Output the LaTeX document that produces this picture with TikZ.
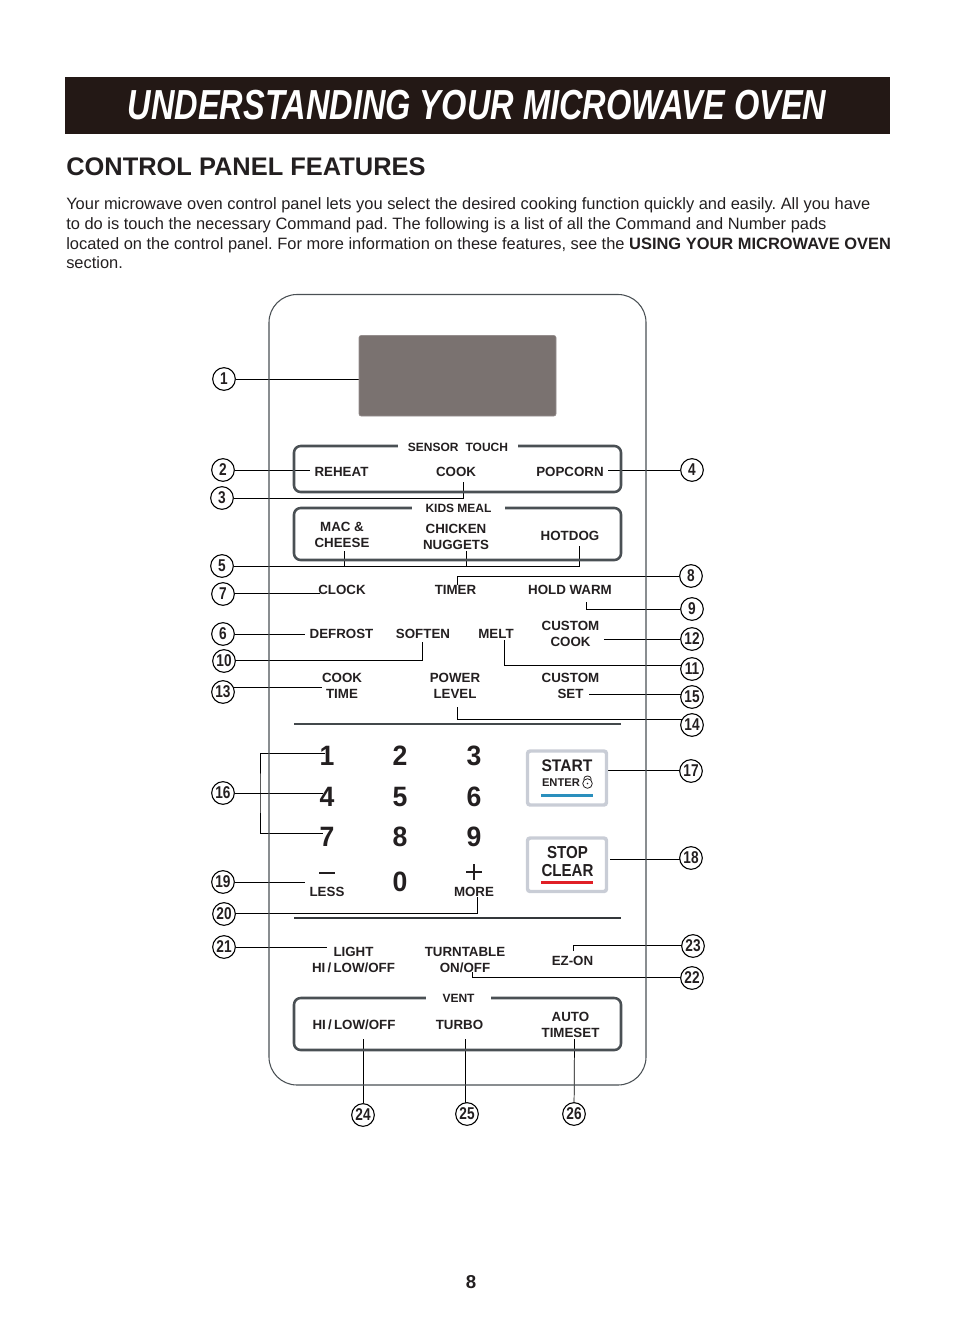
\documentclass[tikz,border=0pt]{standalone}
\usepackage{fontspec}
\setmainfont{Liberation Sans}
\usetikzlibrary{backgrounds}
\definecolor{bandcol}{HTML}{231815}
\definecolor{textcol}{HTML}{231F20}
\definecolor{boxcol}{HTML}{4A5054}
\definecolor{btncol}{HTML}{C9CDD6}
\definecolor{dispcol}{HTML}{7A7270}
\definecolor{startcol}{HTML}{2A8FBD}
\definecolor{stopcol}{HTML}{E01F26}
\newcommand{\pxfont}[1]{\fontsize{#1}{#1}\selectfont}
\frenchspacing
\tikzset{
    leader/.style={line width=0.55pt, black},
    callout/.style={circle, draw=black, line width=0.8pt, fill=white, minimum size=17pt, inner sep=0pt, font=\pxfont{12.8}\bfseries, text=textcol},
    padlabel/.style={font=\fontsize{10}{12}\selectfont\bfseries, text=textcol, align=center, yshift=-0.5pt},
    grouplabel/.style={font=\pxfont{9}\bfseries, text=textcol, fill=white, yshift=-0.5pt},
    digit/.style={font=\pxfont{21}\bfseries, text=textcol, yshift=-0.6pt, xscale=0.95},
    bodyline/.style={anchor=base west, inner sep=0pt, font=\pxfont{12.33}, text=textcol},
    groupbox/.style={draw=boxcol, line width=1.9pt, rounded corners=5pt},
    btnbox/.style={draw=btncol, line width=2.6pt, rounded corners=2pt, fill=white},
}
\begin{document}
\begin{tikzpicture}[x=0.75pt, y=-0.75pt]
    \useasboundingbox (0,0) rectangle (954,1342);
    % Page heading
    \fill[bandcol] (65,77) rectangle (890,134);
    \node[xscale=0.775, text=white, font=\pxfont{31.5}\bfseries\itshape] (title) at (477,105) {UNDERSTANDING YOUR MICROWAVE OVEN};
    \node[anchor=base west, inner sep=0pt, text=textcol, font=\pxfont{19.07}\bfseries] (heading) at (66,175) {CONTROL PANEL FEATURES};
    \node[bodyline] (line1) at (66,209) {Your microwave oven control panel lets you select the desired cooking function quickly and easily. All you have};
    \node[bodyline] (line2) at (66,229) {to do is touch the necessary Command pad. The following is a list of all the Command and Number pads};
    \node[bodyline] (line3) at (66,249) {located on the control panel. For more information on these features, see the \textbf{USING YOUR MICROWAVE OVEN}};
    \node[bodyline] (line4) at (66,268) {section.};
    \node[text=textcol, font=\pxfont{14}\bfseries] (pageno) at (471,1282) {8};
    % Panel
    \draw[draw=boxcol, line width=0.8pt, rounded corners=21pt] (269,294.5) rectangle (646,1085);
    \draw[draw=dispcol!80!white, fill=dispcol, rounded corners=1.5pt] (359,335.5) rectangle (556,416);
    \draw[groupbox] (294,446) rectangle (621,492);
    \draw[groupbox] (294,508) rectangle (621,560);
    \draw[groupbox] (294,998) rectangle (621,1050);
    \draw[boxcol!90!black, line width=1.5pt] (294,724) -- (621,724);
    \draw[boxcol!70!black, line width=2pt] (294,918) -- (621,918);
    \node[grouplabel, minimum width=90pt, minimum height=8pt, inner sep=0pt] (sensor) at (458,446.5) {SENSOR\hspace{0.3em} TOUCH};
    \node[grouplabel, minimum width=70pt, minimum height=8pt, inner sep=0pt] (kids) at (458.5,507.5) {KIDS MEAL};
    \node[grouplabel, minimum width=49pt, minimum height=8pt, inner sep=0pt] (vent) at (458.5,998) {VENT};
    % Command pads
    \node[padlabel] (reheat) at (341.5,471) {REHEAT};
    \node[padlabel] (cook) at (456,471) {COOK};
    \node[padlabel] (popcorn) at (570,471) {POPCORN};
    \node[padlabel] (mac) at (342,534) {MAC \&\\CHEESE};
    \node[padlabel] (chicken) at (456,536) {CHICKEN\\NUGGETS};
    \node[padlabel] (hotdog) at (570,535.5) {HOTDOG};
    \node[padlabel] (clock) at (342,589.5) {CLOCK};
    \node[padlabel] (timer) at (455.5,589.5) {TIMER};
    \node[padlabel] (holdwarm) at (570,589.5) {HOLD WARM};
    \node[padlabel] (defrost) at (341.5,633) {DEFROST};
    \node[padlabel] (soften) at (423,633) {SOFTEN};
    \node[padlabel] (melt) at (496,633) {MELT};
    \node[padlabel] (customcook) at (570.5,633) {CUSTOM\\COOK};
    \node[padlabel] (cooktime) at (342,685) {COOK\\TIME};
    \node[padlabel] (power) at (455,685) {POWER\\LEVEL};
    \node[padlabel] (customset) at (570.5,685) {CUSTOM\\SET};
    \node[padlabel] (less) at (327,891.5) {LESS};
    \node[padlabel] (more) at (474,891.5) {MORE};
    \node[padlabel] (light) at (353.5,959.5) {LIGHT\\HI\,/\,LOW/OFF};
    \node[padlabel] (turntable) at (465,959) {TURNTABLE\\ON/OFF};
    \node[padlabel] (ezon) at (572.5,960) {EZ-ON};
    \node[padlabel] (hilow) at (354,1024.5) {HI\,/\,LOW/OFF};
    \node[padlabel] (turbo) at (459.5,1024) {TURBO};
    \node[padlabel] (auto) at (570.5,1024) {AUTO\\TIMESET};
    % Number pads
    \foreach \d/\x/\y in {1/327/755,2/400/755,3/474/755,4/327/796,5/400/796,6/474/796,7/327/836,8/400/836,9/474/836,0/400/881}
        \node[digit] (key\d) at (\x,\y) {\d};
    \draw[textcol, line width=1.3pt] (319,873) -- (335,873);
    \draw[textcol, line width=1.3pt] (466,872) -- (482,872) (474,864) -- (474,880);
    % Start and stop
    \draw[btnbox] (527.5,751) rectangle (606.5,805);
    \draw[btnbox] (527.5,838) rectangle (606.5,891.5);
    \node[xscale=0.93, text=textcol, font=\pxfont{12.6}\bfseries] (start) at (567,766) {START};
    \node[text=textcol, font=\pxfont{8.4}\bfseries] (enter) at (561,783) {ENTER};
    \node[xscale=0.87, text=textcol, font=\fontsize{13}{12.8}\selectfont\bfseries, align=center] (stop) at (567.5,861.5) {STOP\\CLEAR};
    \draw[startcol, line width=2pt] (541,795.5) -- (593,795.5);
    \draw[stopcol, line width=2pt] (541,882.5) -- (593,882.5);
    \draw[textcol, line width=0.6pt] (587.5,783.5) circle (3.6pt);
    \draw[textcol, line width=0.6pt] (584,780) -- (584,778.5) arc (180:0:3.5 and -2.5) -- (591,780);
    \fill[textcol] (587.5,783.5) circle (0.7pt);
    % Callouts
    \foreach \n/\x/\y in {1/224/379,2/223/470,3/222/498,4/692/470,5/222/566,6/223/634,7/223/594,8/691/576,9/692/609,
                          10/224/661,11/692/669,12/692/639,13/223/692,14/692/725,15/692/697,16/223/793,17/691/771,18/691/858,
                          19/223/882,20/224/914,21/224/947,22/692/978,23/693/946,24/363/1115,25/467/1114,26/574/1114}
        \node[callout] (c\n) at (\x,\y) {\scalebox{0.8}[1]{\n}};
    % Free ends of the leaders
    \coordinate (a3) at (463,482);
    \coordinate (a5a) at (344.5,551);
    \coordinate (a5b) at (466.5,551);
    \coordinate (a5c) at (579,546);
    \coordinate (a7) at (320,593.5);
    \coordinate (a8) at (457,585);
    \coordinate (a9) at (586,602);
    \coordinate (a10) at (422,642);
    \coordinate (a11) at (504,640);
    \coordinate (a13) at (322,687);
    \coordinate (a14) at (457,707);
    \coordinate (a15) at (589,694);
    \coordinate (a16a) at (325,753);
    \coordinate (a16b) at (323,793);
    \coordinate (a16c) at (323,833);
    \coordinate (a17) at (608,770);
    \coordinate (a18) at (610,859);
    \coordinate (a20) at (477.5,897);
    \coordinate (a21) at (327,947);
    \coordinate (a22) at (472,972);
    \coordinate (a23) at (573,951);
    \coordinate (a24) at (363,1039);
    \coordinate (a25) at (465.5,1039);
    \coordinate (a26) at (574.5,1039);
    \begin{scope}[on background layer]
        \draw[leader] (c1) -- (c1 -| 359,379);
        \draw[leader] (c2) -- (reheat.west |- c2);
        \draw[leader] (c3) -| (a3);
        \draw[leader] (popcorn.east |- c4) -- (c4);
        \draw[leader] (c5) -| (a5c);
        \draw[leader] (a5a) -- (a5a |- c5);
        \draw[leader] (a5b) -- (a5b |- c5);
        \draw[leader] (c7 |- a7) -- (a7);
        \draw[leader] (a8) |- (c8);
        \draw[leader] (a9) |- (c9);
        \draw[leader] (c6) -- (defrost.west |- c6);
        \draw[leader] (c10 |- 0,660) -| (a10);
        \draw[leader] (a11) |- (c11 |- 0,665.5);
        \draw[leader] (customcook.east |- c12) -- (c12);
        \draw[leader] (c13 |- a13) -- (a13);
        \draw[leader] (a14) |- (c14 |- 0,719);
        \draw[leader] (a15) -- (c15 |- a15);
        \draw[leader] (a16a) -| (260,793) |- (a16c);
        \draw[leader] (c16) -- (a16b);
        \draw[leader] (a17) -- (c17 |- a17);
        \draw[leader] (a18) -- (c18 |- a18);
        \draw[leader] (c19) -- (less.west |- c19);
        \draw[leader] (c20 |- 0,913) -| (a20);
        \draw[leader] (c21) -- (a21);
        \draw[leader] (a22) |- (c22 |- 0,977);
        \draw[leader] (a23) |- (c23 |- 0,945);
        \draw[leader] (a24) -- (c24);
        \draw[leader] (a25) -- (a25 |- c25);
        \draw[leader] (a26) -- (c26);
    \end{scope}
\end{tikzpicture}
\end{document}
